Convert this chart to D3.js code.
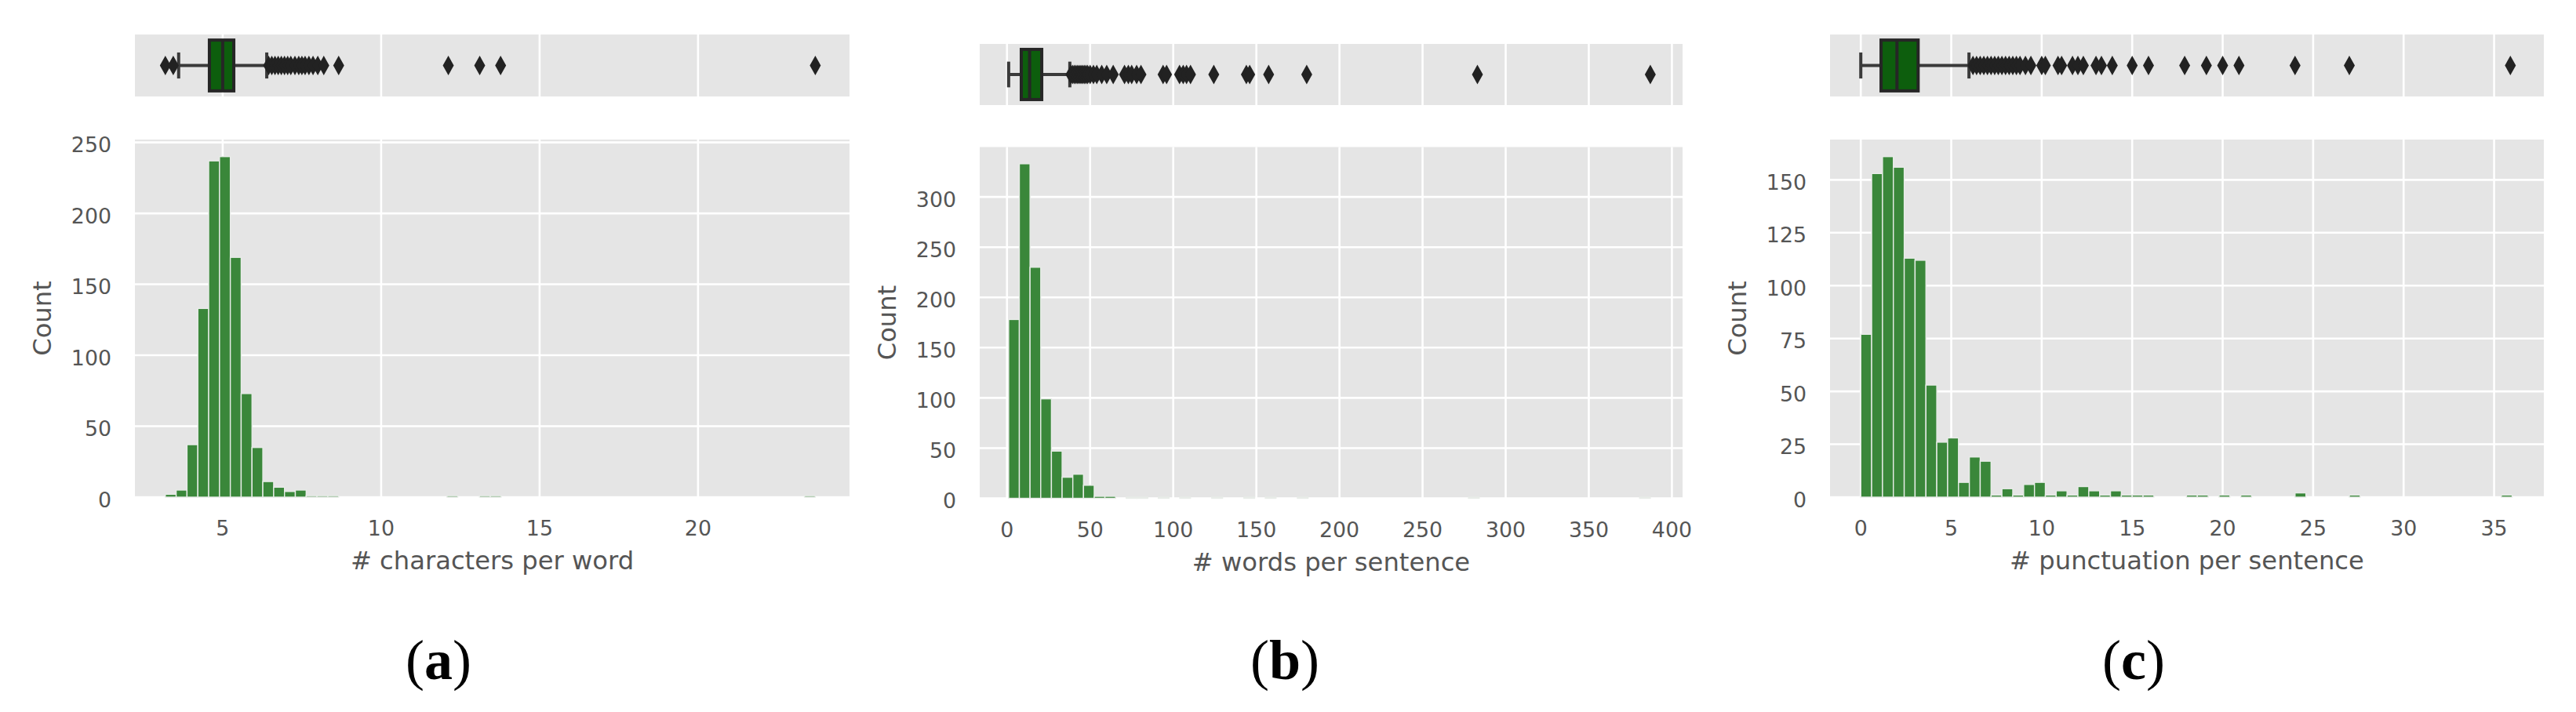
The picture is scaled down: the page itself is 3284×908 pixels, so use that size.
<!DOCTYPE html>
<html>
<head>
<meta charset="utf-8">
<script src="https://cdn.jsdelivr.net/npm/d3@7/dist/d3.min.js"></script>
<style>
    body { margin: 0; background: #fff; }
    svg text { font-family: "DejaVu Sans", sans-serif; }
</style>
</head>
<body>
<div id="chart"></div>
<script>
// ---------- values ----------

// (a) characters per word: 60 histogram bins over [min, max]
const charsRange = [3.19, 23.70];
const charsCounts = [
    2, 5, 37, 133, 237, 240, 169, 73, 35, 11,
    7, 4, 5, 1, 1, 1, 0, 0, 0, 0,
    0, 0, 0, 0, 0, 0, 1, 0, 0, 1,
    1, 0, 0, 0, 0, 0, 0, 0, 0, 0,
    0, 0, 0, 0, 0, 0, 0, 0, 0, 0,
    0, 0, 0, 0, 0, 0, 0, 0, 0, 1
];
// whisker low, q1, median, q3, whisker high
const charsBox = [3.61, 4.58, 5.0, 5.35, 6.39];
const charsOutliers = [3.19, 3.44, 6.45, 6.55, 6.65, 6.75, 6.85, 6.95, 7.05, 7.15, 7.28, 7.4,
    7.5, 7.6, 7.72, 7.85, 8.0, 8.19, 8.66, 12.12, 13.11, 13.77, 23.70];
const charsXTicks = [5, 10, 15, 20];
const charsYTicks = [0, 50, 100, 150, 200, 250];

// (b) words per sentence
const wordsRange = [1, 387];
const wordsCounts = [
    178, 333, 230, 99, 47, 21, 24, 13, 2, 2,
    0, 1, 1, 0, 1, 0, 1, 0, 0, 1,
    0, 0, 1, 0, 1, 0, 0, 1, 0, 0,
    0, 0, 0, 0, 0, 0, 0, 0, 0, 0,
    0, 0, 0, 1, 0, 0, 0, 0, 0, 0,
    0, 0, 0, 0, 0, 0, 0, 0, 0, 1
];
const wordsBox = [1.0, 8.6, 13.6, 20.9, 37.8];
const wordsOutliers = [38.5, 39.5, 40.5, 41.5, 42.5, 43.5, 44.5, 45.5, 46.5, 47.5, 48.5, 50, 52,
    54, 57, 60, 63.9, 70.7, 73, 75, 78, 80.6, 93.9, 96, 103.8, 106, 108, 110.4, 124.4,
    144, 146, 157.4, 180.3, 283, 387];
const wordsXTicks = [0, 50, 100, 150, 200, 250, 300, 350, 400];
const wordsYTicks = [0, 50, 100, 150, 200, 250, 300];

// (c) punctuation per sentence
const punctRange = [0, 36];
const punctCounts = [
    77, 153, 161, 156, 113, 112, 53, 26, 28, 7,
    19, 17, 1, 4, 1, 6, 7, 1, 3, 1,
    5, 3, 1, 3, 1, 1, 1, 0, 0, 0,
    1, 1, 0, 1, 0, 1, 0, 0, 0, 0,
    2, 0, 0, 0, 0, 1, 0, 0, 0, 0,
    0, 0, 0, 0, 0, 0, 0, 0, 0, 1
];
const punctBox = [0, 1.12, 2.0, 3.17, 5.98];
const punctOutliers = [6.2, 6.4, 6.6, 6.8, 7.0, 7.2, 7.4, 7.6, 7.8, 8.0, 8.2, 8.4, 8.6, 8.8,
    9.1, 9.4, 10.0, 10.2, 10.9, 11.1, 11.7, 12.0, 12.3, 13.0, 13.3, 13.9, 15.0, 15.9,
    17.9, 19.1, 20.0, 20.9, 24.0, 27.0, 35.9];
const punctXTicks = [0, 5, 10, 15, 20, 25, 30, 35];
const punctYTicks = [0, 25, 50, 75, 100, 125, 150];

const xLabels = ["# characters per word", "# words per sentence", "# punctuation per sentence"];
const captions = ["a", "b", "c"];

// ---------- drawing ----------

class HistBoxPanel {
    constructor(svg, cfg) {
        this.svg = svg;
        this.cfg = cfg;
        this.initVis();
    }

    initVis() {
        let vis = this;
        let c = vis.cfg;

        vis.g = vis.svg.append("g");

        vis.x = d3.scaleLinear().domain(c.xDomain).range([c.left, c.right]);
        vis.y = d3.scaleLinear()
            .domain([0, d3.max(c.counts) * 1.05])
            .range([c.histBottom, c.histTop]);

        vis.drawBox();
        vis.drawHist();
        vis.drawText();
    }

    drawBox() {
        let vis = this;
        let c = vis.cfg;
        let h = c.boxBottom - c.boxTop;
        let cy = (c.boxTop + c.boxBottom) / 2;

        vis.g.append("rect")
            .attr("x", c.left).attr("y", c.boxTop)
            .attr("width", c.right - c.left).attr("height", h)
            .attr("fill", "#e5e5e5");

        vis.g.selectAll(".box-grid")
            .data(c.xTicks)
            .enter().append("line")
            .attr("class", "box-grid")
            .attr("x1", d => vis.x(d)).attr("x2", d => vis.x(d))
            .attr("y1", c.boxTop).attr("y2", c.boxBottom)
            .attr("stroke", "#fff").attr("stroke-width", 2.6);

        let [wlo, q1, med, q3, whi] = c.box;
        let lineCol = "#3a3a3a";

        // whiskers
        vis.g.append("line")
            .attr("x1", vis.x(wlo)).attr("x2", vis.x(q1))
            .attr("y1", cy).attr("y2", cy)
            .attr("stroke", lineCol).attr("stroke-width", 4);
        vis.g.append("line")
            .attr("x1", vis.x(q3)).attr("x2", vis.x(whi))
            .attr("y1", cy).attr("y2", cy)
            .attr("stroke", lineCol).attr("stroke-width", 4);

        // caps
        vis.g.selectAll(".cap")
            .data([wlo, whi])
            .enter().append("line")
            .attr("class", "cap")
            .attr("x1", d => vis.x(d)).attr("x2", d => vis.x(d))
            .attr("y1", cy - h * 0.21).attr("y2", cy + h * 0.21)
            .attr("stroke", lineCol).attr("stroke-width", 4);

        // box + median
        vis.g.append("rect")
            .attr("x", vis.x(q1)).attr("y", cy - h * 0.41)
            .attr("width", vis.x(q3) - vis.x(q1)).attr("height", h * 0.82)
            .attr("fill", "#0d5e0d")
            .attr("stroke", "#262626").attr("stroke-width", 4);
        vis.g.append("line")
            .attr("x1", vis.x(med)).attr("x2", vis.x(med))
            .attr("y1", cy - h * 0.41).attr("y2", cy + h * 0.41)
            .attr("stroke", "#262626").attr("stroke-width", 4);

        // outliers as thin diamonds
        vis.g.selectAll(".flier")
            .data(c.outliers)
            .enter().append("path")
            .attr("class", "flier")
            .attr("d", "M0,-12.5L7,0L0,12.5L-7,0Z")
            .attr("transform", d => `translate(${vis.x(d)},${cy})`)
            .attr("fill", "#222");
    }

    drawHist() {
        let vis = this;
        let c = vis.cfg;
        let n = c.counts.length;
        let step = (c.range[1] - c.range[0]) / n;

        vis.bins = c.counts.map((d, i) => ({
            x0: c.range[0] + i * step,
            x1: c.range[0] + (i + 1) * step,
            count: d
        }));

        vis.g.append("rect")
            .attr("x", c.left).attr("y", c.histTop)
            .attr("width", c.right - c.left).attr("height", c.histBottom - c.histTop)
            .attr("fill", "#e5e5e5");

        vis.g.selectAll(".vgrid")
            .data(c.xTicks)
            .enter().append("line")
            .attr("class", "vgrid")
            .attr("x1", d => vis.x(d)).attr("x2", d => vis.x(d))
            .attr("y1", c.histTop).attr("y2", c.histBottom)
            .attr("stroke", "#fff").attr("stroke-width", 2.6);

        vis.g.selectAll(".hgrid")
            .data(c.yTicks)
            .enter().append("line")
            .attr("class", "hgrid")
            .attr("x1", c.left).attr("x2", c.right)
            .attr("y1", d => vis.y(d)).attr("y2", d => vis.y(d))
            .attr("stroke", "#fff").attr("stroke-width", 2.6);

        vis.g.selectAll(".bar")
            .data(vis.bins.filter(d => d.count > 0))
            .enter().append("rect")
            .attr("class", "bar")
            .attr("x", d => vis.x(d.x0))
            .attr("width", d => vis.x(d.x1) - vis.x(d.x0))
            .attr("y", d => vis.y(d.count))
            .attr("height", d => vis.y(0) - vis.y(d.count))
            .attr("fill", "#3a873a")
            .attr("stroke", "#e8ece8")
            .attr("stroke-width", 1.4);
    }

    drawText() {
        let vis = this;
        let c = vis.cfg;

        vis.g.selectAll(".xtick")
            .data(c.xTicks)
            .enter().append("text")
            .attr("class", "xtick")
            .attr("x", d => vis.x(d))
            .attr("y", c.histBottom + 49)
            .attr("text-anchor", "middle")
            .attr("font-size", 26.8)
            .attr("fill", "#555")
            .text(d => d);

        vis.g.selectAll(".ytick")
            .data(c.yTicks)
            .enter().append("text")
            .attr("class", "ytick")
            .attr("x", c.left - 30)
            .attr("y", d => vis.y(d) + 12.6)
            .attr("text-anchor", "end")
            .attr("font-size", 26.8)
            .attr("fill", "#555")
            .text(d => d);

        vis.g.append("text")
            .attr("x", (c.left + c.right) / 2)
            .attr("y", c.histBottom + 92)
            .attr("text-anchor", "middle")
            .attr("font-size", 32.2)
            .attr("fill", "#555")
            .text(c.xLabel);

        let ly = (c.histTop + c.histBottom) / 2;
        vis.g.append("text")
            .attr("transform", `translate(${c.left - 107},${ly}) rotate(-90)`)
            .attr("text-anchor", "middle")
            .attr("font-size", 32.2)
            .attr("fill", "#555")
            .text("Count");

        let cap = vis.g.append("text")
            .attr("x", c.captionX)
            .attr("y", 866)
            .attr("text-anchor", "middle")
            .attr("font-size", 72)
            .style("font-family", "'Liberation Serif', serif")
            .attr("fill", "#000");
        cap.append("tspan").text("(");
        cap.append("tspan").attr("font-weight", "bold").text(c.caption);
        cap.append("tspan").text(")");
    }
}

const svg = d3.select("#chart").append("svg")
    .attr("width", 3284)
    .attr("height", 908);

svg.append("rect").attr("width", 3284).attr("height", 908).attr("fill", "#fff");

const panels = [
    {left: 172, right: 1083, boxTop: 44, boxBottom: 123, histTop: 178, histBottom: 634,
     xDomain: [2.23, 24.78], captionX: 559,
     range: charsRange, counts: charsCounts, box: charsBox, outliers: charsOutliers,
     xTicks: charsXTicks, yTicks: charsYTicks, xLabel: xLabels[0], caption: captions[0]},
    {left: 1249, right: 2145, boxTop: 56, boxBottom: 134, histTop: 187.5, histBottom: 635.5,
     xDomain: [-16.4, 406.4], captionX: 1638,
     range: wordsRange, counts: wordsCounts, box: wordsBox, outliers: wordsOutliers,
     xTicks: wordsXTicks, yTicks: wordsYTicks, xLabel: xLabels[1], caption: captions[1]},
    {left: 2333, right: 3243, boxTop: 44, boxBottom: 123, histTop: 178, histBottom: 634,
     xDomain: [-1.7, 37.75], captionX: 2720,
     range: punctRange, counts: punctCounts, box: punctBox, outliers: punctOutliers,
     xTicks: punctXTicks, yTicks: punctYTicks, xLabel: xLabels[2], caption: captions[2]}
];

panels.forEach(p => new HistBoxPanel(svg, p));
</script>
</body>
</html>
